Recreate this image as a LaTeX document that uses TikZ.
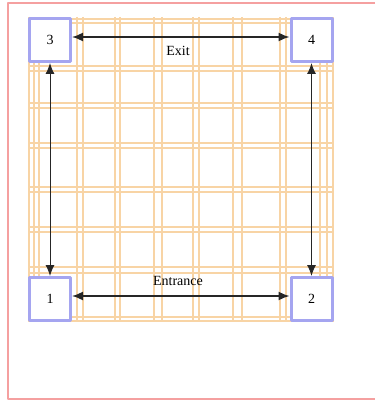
\documentclass[tikz,border=0pt]{standalone}
\usepackage{fontspec}
\setmainfont{Liberation Serif}
\usetikzlibrary{arrows.meta,calc}
\definecolor{framepink}{RGB}{245,160,160}
\definecolor{laneorange}{RGB}{248,212,165}
\definecolor{spotblue}{RGB}{165,165,240}
\begin{document}
\begin{tikzpicture}[x=1pt, y=-1pt, font=\fontsize{14}{16}\selectfont, line join=round,
	spot/.style={draw=spotblue, line width=3pt, fill=white, minimum width=41pt, minimum height=43pt, inner sep=0pt},
	lane/.style={laneorange, line width=1.2pt},
	way/.style={{Latex[length=11pt,width=9pt]}-{Latex[length=11pt,width=9pt]}, black!85}]
				\useasboundingbox (0,0) rectangle (375,401);
				\draw[framepink, line width=2pt] (375,3)--(8,3)--(8,399)--(375,399);
				% lanes
				\foreach \a/\b in {34/39,77/83,115/120,154/162,193/199,233/242,280/286,320/327}
				\draw[lane] (\a,17)--(\a,321) (\b,17)--(\b,321);
				\foreach \a/\b in {19/23,66/71,103/108,143/148,187/192,227/232,267/273,317/321}
				\draw[lane] (28,\a)--(334,\a) (28,\b)--(334,\b);
				\draw[lane] (29,17)--(29,321) (333,17)--(333,321);
				% corners
				\foreach \x\y\t in {50/40/3,311.5/40/4,50/299/1,311.5/299/2}
				\node[spot] (s\t) at (\x,\y) {\t};
				\draw[way, line width=1.6pt] ([yshift=3pt]s3.east)--([yshift=3pt]s4.west);
				\draw[way, line width=1.6pt] ([yshift=3pt]s1.east)--([yshift=3pt]s2.west);
				\draw[way, line width=1pt] (s3.south)--(s1.north);
				\draw[way, line width=1pt] (s4.south)--(s2.north);
				\node (exit) at (178,51) {Exit};
				\node (entrance) at (178,281) {Entrance};
		\end{tikzpicture}
\end{document}
